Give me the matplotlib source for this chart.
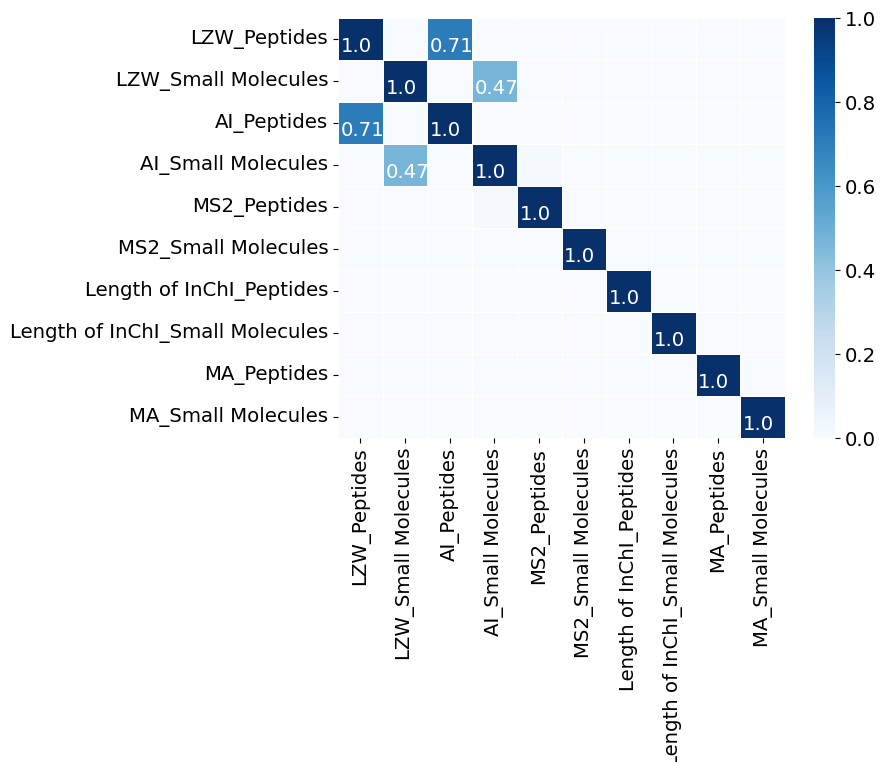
import numpy as np
import pandas as pd
import matplotlib
matplotlib.use('Agg')
import matplotlib.pyplot as plt
import seaborn as sns

# features compared
labels = ['LZW_Peptides', 'LZW_Small Molecules', 'AI_Peptides', 'AI_Small Molecules',
          'MS2_Peptides', 'MS2_Small Molecules', 'Length of InChI_Peptides',
          'Length of InChI_Small Molecules', 'MA_Peptides', 'MA_Small Molecules']

# correlation values (off-diagonal)
diag = [1.0] * 10
pairs = [(0, 2, 0.71), (1, 3, 0.47), (3, 4, 0.015)]

corr = np.diag(diag)
for i, j, v in pairs:
    corr[i, j] = v
    corr[j, i] = v
df = pd.DataFrame(corr, index=labels, columns=labels)

fs = 14.2
plt.rcParams['font.family'] = ['DejaVu Sans']
plt.rcParams['font.size'] = fs

fig = plt.figure(figsize=(8.8, 7.62), dpi=100)
W, H = 880, 762
ax = fig.add_axes([338 / W, 1 - 438 / H, (785 - 338) / W, (438 - 18) / H])
cax = fig.add_axes([814 / W, 1 - 438 / H, (835 - 814) / W, (438 - 18) / H])

sns.heatmap(df, ax=ax, cbar_ax=cax, cmap='Blues', vmin=0, vmax=1,
            linewidths=0.5, linecolor='white', annot=False)

# annotations only on the visible correlations
for i in range(len(labels)):
    for j in range(len(labels)):
        v = corr[i, j]
        if v >= 0.1:
            ax.text(j + 0.06, i + 0.81, str(round(v, 2)), ha='left', va='baseline',
                    color='white', fontsize=fs)

ax.tick_params(axis='both', labelsize=fs)
ax.set_xticklabels(labels, rotation=90)
ax.set_yticklabels(labels, rotation=0)
cax.tick_params(labelsize=fs)

fig.savefig('out.png', dpi=100)
